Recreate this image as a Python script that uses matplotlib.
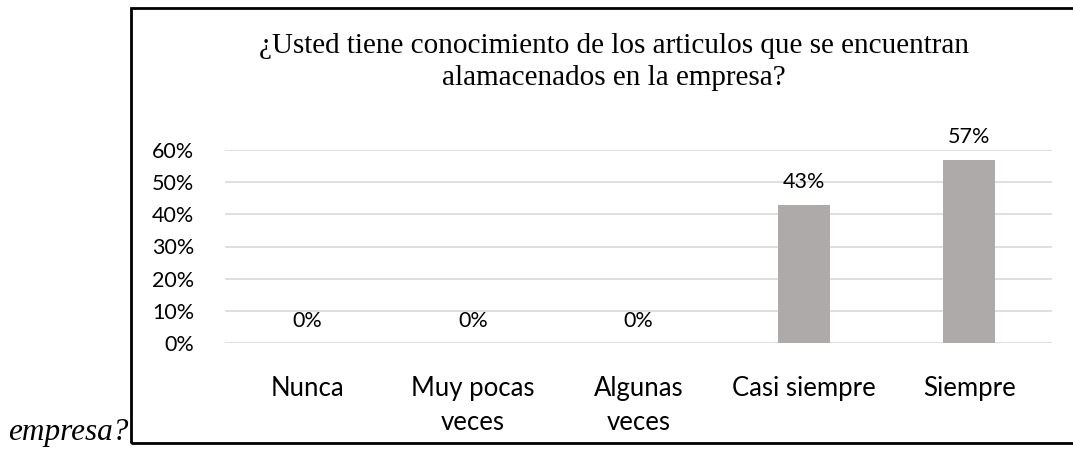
import matplotlib
matplotlib.use("Agg")
import matplotlib.pyplot as plt
from matplotlib.patches import Rectangle

# datos
categorias = ["Nunca", "Muy pocas\nveces", "Algunas\nveces", "Casi siempre", "Siempre"]
valores = [0.0, 0.0, 0.0, 0.43, 0.57]
etiquetas = ["0%", "0%", "0%", "43%", "57%"]
ticks_y = [0, 0.1, 0.2, 0.3, 0.4, 0.5, 0.6]
ticks_y_txt = ["0%", "10%", "20%", "30%", "40%", "50%", "60%"]
titulo = "¿Usted tiene conocimiento de los articulos que se encuentran\nalamacenados en la empresa?"

W, H = 1073, 451
fig = plt.figure(figsize=(W / 100, H / 100), dpi=100)
fig.patch.set_facecolor("white")

# marco negro del grafico
fig.patches.append(Rectangle((131 / W, 8 / H), 1.0, 435 / H, transform=fig.transFigure,
                             fill=False, edgecolor="black", linewidth=2, zorder=0))

ax = fig.add_axes([225 / W, (H - 343) / H, 827 / W, 193 / H])
x = range(len(categorias))
ax.bar(x, valores, width=0.315, color="#AEAAAA", zorder=2)
ax.set_xlim(-0.5, len(categorias) - 0.5)
ax.set_ylim(0, 0.6)

ax.set_yticks(ticks_y)
ax.set_yticklabels(ticks_y_txt, fontsize=15.5, family="Lato")
ax.set_xticks(list(x))
ax.set_xticklabels(categorias, fontsize=18.5, family="Lato", linespacing=1.45)
ax.tick_params(length=0)
ax.tick_params(axis="y", pad=22)
ax.tick_params(axis="x", pad=24)
ax.grid(axis="y", color="#D9D9D9", linewidth=1.2, zorder=0)
for s in ax.spines.values():
    s.set_visible(False)

for i, (v, t) in enumerate(zip(valores, etiquetas)):
    ax.annotate(t, (i, v), xytext=(0, 16), textcoords="offset points",
                ha="center", va="center", fontsize=15.5, family="Lato")

# titulo en dos lineas
lineas = titulo.split("\n")
for k, linea in enumerate(lineas):
    fig.text(614 / W, 1 - (53 + 32 * k) / H, linea, ha="center", va="baseline",
             fontsize=21, family="Liberation Serif")

fig.text(8 / W, 1 - 440 / H, "empresa?", ha="left", va="baseline", fontsize=22.5,
         family="Liberation Serif", style="italic")

fig.savefig("out.png", dpi=100)
